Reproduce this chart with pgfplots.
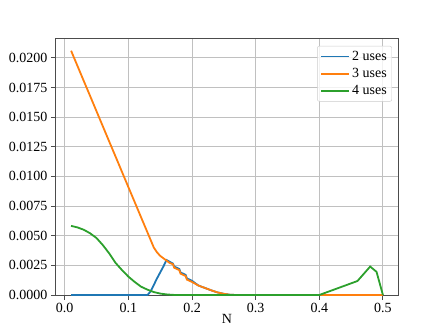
\documentclass[border=0pt]{standalone}
\usepackage{fontspec}
\setmainfont{Liberation Serif}
\usepackage{pgfplots}
\pgfplotsset{compat=1.18}

\definecolor{tabblue}{HTML}{1F77B4}
\definecolor{taborange}{HTML}{FF7F0E}
\definecolor{tabgreen}{HTML}{2CA02C}
\definecolor{gridgray}{HTML}{B0B0B0}

\begin{document}
\begin{tikzpicture}
\begin{axis}[
    name=ax,
    scale only axis,
    width=343pt, height=256.5pt,
    xmin=-0.0145, xmax=0.5245,
    ymin=0, ymax=0.02163,
    xtick={0,0.1,0.2,0.3,0.4,0.5},
    ytick={0,0.0025,0.005,0.0075,0.01,0.0125,0.015,0.0175,0.02},
    xticklabel style={/pgf/number format/.cd, fixed, fixed zerofill, precision=1},
    yticklabel style={/pgf/number format/.cd, fixed, fixed zerofill, precision=4},
    scaled y ticks=false, scaled x ticks=false,
    /pgf/number format/assume math mode=true,
    tick align=outside, tick pos=left,
    major tick length=4.5pt,
    tick style={black!70, line width=1pt},
    axis line style={black!70, line width=1pt},
    grid=major,
    grid style={gridgray!80, line width=1pt},
    xlabel={N},
    xlabel style={yshift=5pt},
    ticklabel style={font=\fontsize{14}{16}\selectfont},
    label style={font=\fontsize{14}{16}\selectfont},
    legend style={at={(0.981,0.971)}, anchor=north east,
        draw=black!20, rounded corners=2pt, fill=white, fill opacity=0.8, text opacity=1,
        font=\fontsize{14}{16}\selectfont, row sep=2.5pt,
        inner xsep=3pt, inner ysep=3pt},
    legend cell align=left,
    legend image code/.code={\draw[#1, line width=1.8pt] (0pt,0pt) -- (28pt,0pt);},
]
% 2 uses
\addplot[tabblue, line width=1.8pt] coordinates {
(0.01,0) (0.05,0) (0.10,0) (0.13,0) (0.135,0.0003) (0.14,0.00085) (0.145,0.0014)
(0.15,0.0019) (0.155,0.0024) (0.16,0.00295) (0.165,0.0028) (0.17,0.00265)
(0.172,0.0024) (0.18,0.0022) (0.182,0.0019) (0.19,0.0017) (0.192,0.0014)
(0.20,0.0012) (0.21,0.0008) (0.22,0.0006) (0.23,0.0004) (0.24,0.00022)
(0.25,0.0001) (0.26,0.00002) (0.27,0) (0.35,0) (0.45,0) (0.5,0)
};
\addlegendentry{2 uses}
% 3 uses
\addplot[taborange, line width=1.8pt] coordinates {
(0.01,0.0206) (0.02,0.01932) (0.03,0.01804) (0.04,0.01677) (0.05,0.01549)
(0.06,0.01421) (0.07,0.01293) (0.08,0.01166) (0.09,0.01038) (0.10,0.0091)
(0.11,0.00783) (0.12,0.00655) (0.13,0.00528) (0.14,0.0040) (0.145,0.0036)
(0.15,0.0033) (0.155,0.0031) (0.16,0.0029) (0.165,0.0027) (0.17,0.0026)
(0.172,0.0023) (0.18,0.0021) (0.182,0.0018) (0.19,0.0016) (0.192,0.0013)
(0.20,0.0011) (0.21,0.0008) (0.22,0.0006) (0.23,0.0004) (0.24,0.00022)
(0.25,0.0001) (0.26,0.00002) (0.27,0) (0.35,0) (0.45,0) (0.5,0)
};
\addlegendentry{3 uses}
% 4 uses
\addplot[tabgreen, line width=1.8pt] coordinates {
(0.01,0.00583) (0.02,0.0057) (0.03,0.0055) (0.04,0.0052) (0.05,0.0048)
(0.06,0.0042) (0.07,0.0035) (0.08,0.0027) (0.09,0.0021) (0.10,0.00155)
(0.11,0.0011) (0.12,0.0007) (0.13,0.00045) (0.14,0.00025) (0.15,0.00012)
(0.16,0.00005) (0.17,0.00001) (0.18,0) (0.30,0) (0.40,0)
(0.46,0.00118) (0.48,0.0024) (0.49,0.00195) (0.50,0)
};
\addlegendentry{4 uses}
\end{axis}
\path (ax.south west) ++(-55.5pt,-37pt) rectangle ++(443pt,332pt);
\end{tikzpicture}
\end{document}
